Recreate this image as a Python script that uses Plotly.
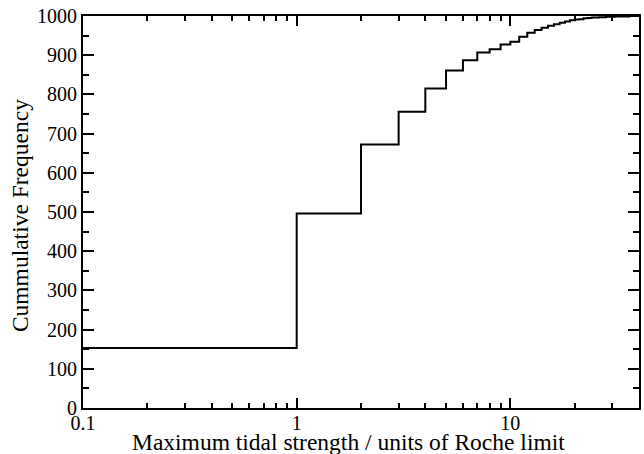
import plotly.graph_objects as go

# Cumulative count of systems versus maximum tidal strength (units of Roche limit)
tidal_strength = [0.1, 1, 2, 3, 4, 5, 6, 7, 8, 9, 10, 11, 12, 13, 14, 15, 16,
                  17, 18, 19, 20, 21, 22, 23, 24, 26, 28, 31, 36, 40]
cumulative_count = [153, 496, 672, 756, 815, 861, 887, 907, 915, 927, 934, 947,
                    957, 964, 970, 975, 979, 983, 986, 989, 991, 992, 994, 995,
                    996, 997, 998, 999, 1000, 1000]

x_major = [0.1, 1, 10]
x_major_text = ["0.1", "1", "10"]
x_minor = [0.2, 0.3, 0.4, 0.5, 0.6, 0.7, 0.8, 0.9,
           2, 3, 4, 5, 6, 7, 8, 9, 20, 30, 40]
y_major = list(range(0, 1001, 100))
y_minor = list(range(50, 1000, 100))

FONT = "Liberation Serif, Times New Roman, serif"
TICK_SIZE = 20
TITLE_SIZE = 23.5

fig = go.Figure()
fig.add_trace(go.Scatter(
    x=tidal_strength, y=cumulative_count,
    mode="lines", line=dict(shape="hv", color="black", width=2),
    showlegend=False, hoverinfo="skip",
))

fig.update_layout(
    width=644, height=454,
    margin=dict(l=83, r=3, t=16, b=46),
    paper_bgcolor="white", plot_bgcolor="white",
    font=dict(family=FONT, size=TICK_SIZE, color="black"),
)

fig.update_xaxes(
    type="log", range=[-1, 1.602],
    tickvals=x_major, ticktext=x_major_text,
    ticks="inside", ticklen=10, tickwidth=1.5, tickcolor="black",
    minor=dict(tickvals=x_minor, ticks="inside", ticklen=5,
               tickwidth=1.5, tickcolor="black"),
    showline=True, linecolor="black", linewidth=2, mirror="allticks",
    showgrid=False, zeroline=False,
    tickfont=dict(family=FONT, size=TICK_SIZE),
    ticklabelstandoff=-4,
)

fig.update_yaxes(
    range=[0, 1000],
    tickvals=y_major,
    ticks="inside", ticklen=11, tickwidth=1.5, tickcolor="black",
    minor=dict(tickvals=y_minor, ticks="inside", ticklen=6,
               tickwidth=1.5, tickcolor="black"),
    showline=True, linecolor="black", linewidth=2, mirror="allticks",
    showgrid=False, zeroline=False,
    tickfont=dict(family=FONT, size=TICK_SIZE),
)

# Axis titles placed as annotations for exact positioning
fig.add_annotation(
    text="Maximum tidal strength / units of Roche limit",
    xref="paper", yref="paper", x=0.478, y=-0.087,
    xanchor="center", yanchor="middle", showarrow=False,
    font=dict(family=FONT, size=TITLE_SIZE, color="black"),
)
fig.add_annotation(
    text="Cummulative Frequency",
    xref="paper", yref="paper", x=-0.113, y=0.49,
    xanchor="center", yanchor="middle", textangle=-90, showarrow=False,
    font=dict(family=FONT, size=TITLE_SIZE, color="black"),
)

fig.write_html("out.html")
